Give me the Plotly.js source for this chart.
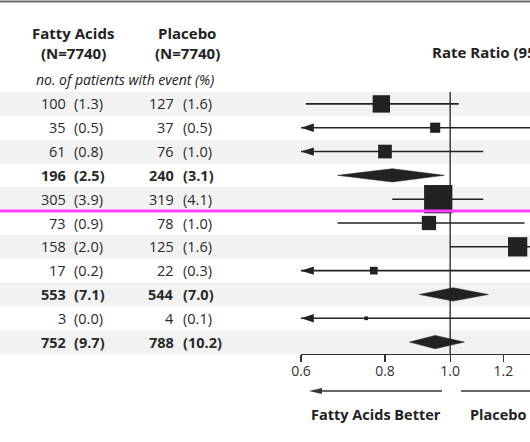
<!DOCTYPE html>
<html><head><meta charset="utf-8">
<script src="https://cdn.plot.ly/plotly-3.0.1.min.js"></script>
<style>html,body{margin:0;padding:0;overflow:hidden;background:#fff}</style>
</head><body><div id="chart" style="width:530px;height:442px"></div>
<script>
// ---- data ----
const fattyEvents   = [100, 35, 61, 196, 305, 73, 158, 17, 553, 3, 752];
const fattyPct      = ['1.3','0.5','0.8','2.5','3.9','0.9','2.0','0.2','7.1','0.0','9.7'];
const placeboEvents = [127, 37, 76, 240, 319, 78, 125, 22, 544, 4, 788];
const placeboPct    = ['1.6','0.5','1.0','3.1','4.1','1.0','1.6','0.3','7.0','0.1','10.2'];
const rateRatio     = [0.79, 0.95, 0.80, 0.82, 0.96, 0.93, 1.26, 0.77, 1.01, 0.75, 0.95];
const ciLow         = [0.61, 0.58, 0.56, 0.68, 0.82, 0.68, 1.00, 0.41, 0.90, 0.17, 0.87];
const ciHigh        = [1.03, 1.52, 1.12, 0.98, 1.12, 1.29, 1.59, 1.46, 1.14, 3.36, 1.05];
const isSummary     = [false, false, false, true, false, false, false, false, true, false, true];
const xTicks        = [0.6, 0.8, 1.0, 1.2];
const xTickLabels   = ['0.6', '0.8', '1.0', '1.2'];

// ---- layout geometry ----
const W = 530, H = 442, ML = 301, MR = 0, MT = 92, MB = 88;
const PW = W - ML - MR, PH = H - MT - MB;
const PX_PER_DECADE = 672.3;
const xMin = 0.6;
const xRange = [Math.log10(xMin), Math.log10(xMin) + PW / PX_PER_DECADE];
const n = rateRatio.length;
const px = v => (v - ML) / PW;          // pixel x -> paper x
const py = v => (H - MB - v) / PH;      // pixel y -> paper y
const FONT = '"Open Sans", "Noto Sans", sans-serif';
const INK = '#222';

const traces = [];
// reference line at 1.0
traces.push({x: [1, 1], y: [-0.5, n - 0.5], mode: 'lines', line: {color: INK, width: 1.3}, hoverinfo: 'skip'});
// confidence interval lines
const lx = [], ly = [];
for (let i = 0; i < n; i++) {
  if (isSummary[i]) continue;
  lx.push(ciLow[i], ciHigh[i], null); ly.push(i, i, null);
}
traces.push({x: lx, y: ly, mode: 'lines', line: {color: INK, width: 1.6}, hoverinfo: 'skip'});
// arrows for intervals running off the left edge
const ax = [], ay = [];
for (let i = 0; i < n; i++) if (!isSummary[i] && ciLow[i] < xMin) { ax.push(xMin); ay.push(i); }
traces.push({x: ax, y: ay, mode: 'markers', cliponaxis: false,
  marker: {symbol: 'arrow', angle: -90, size: 13.5, color: INK, opacity: 1, line: {width: 0}}, hoverinfo: 'skip'});
// squares
const sx = [], sy = [], ss = [];
for (let i = 0; i < n; i++) {
  if (isSummary[i]) continue;
  sx.push(rateRatio[i]); sy.push(i);
  ss.push(1.1 * Math.sqrt(fattyEvents[i] + placeboEvents[i]) + 0.8);
}
traces.push({x: sx, y: sy, mode: 'markers',
  marker: {symbol: 'square', size: ss, color: INK, opacity: 1, line: {width: 0}}, hoverinfo: 'skip'});
// diamonds
const DH = 0.28;
for (let i = 0; i < n; i++) {
  if (!isSummary[i]) continue;
  traces.push({x: [ciLow[i], rateRatio[i], ciHigh[i], rateRatio[i], ciLow[i]],
    y: [i, i - DH, i, i + DH, i], mode: 'lines', fill: 'toself', fillcolor: INK,
    line: {width: 0.5, color: INK}, hoverinfo: 'skip'});
}

// ---- shapes ----
const shapes = [];
for (let i = 0; i < n; i += 2) {
  shapes.push({type: 'rect', xref: 'paper', yref: 'y', x0: px(0), x1: 1, y0: i - 0.5, y1: i + 0.5,
    fillcolor: '#f2f2f2', line: {width: 0}, layer: 'below'});
}
// top rule
shapes.push({type: 'line', xref: 'paper', yref: 'paper', x0: px(0), x1: px(W), y0: py(1.5), y1: py(1.5),
  line: {color: '#6b6b6b', width: 2}});
// magenta marker line
shapes.push({type: 'line', xref: 'paper', yref: 'paper', x0: px(0), x1: px(W), y0: py(211), y1: py(211),
  line: {color: '#ff3cff', width: 3}, layer: 'above'});
// bottom direction arrows
shapes.push({type: 'line', xref: 'paper', yref: 'paper', x0: px(318), x1: px(442), y0: py(391), y1: py(391),
  line: {color: '#333', width: 1.6}});
shapes.push({type: 'path', xref: 'paper', yref: 'paper',
  path: `M${px(309)},${py(391)} L${px(322)},${py(388)} L${px(322)},${py(394)} Z`,
  fillcolor: '#333', line: {width: 0}});
shapes.push({type: 'line', xref: 'paper', yref: 'paper', x0: px(461), x1: px(W + 5), y0: py(391), y1: py(391),
  line: {color: '#333', width: 1.6}});

// ---- annotations ----
const ann = [];
const txt = (text, x, y, xanchor, size) => ({text, x: px(x), y: py(y), xref: 'paper', yref: 'paper',
  xanchor, yanchor: 'middle', showarrow: false, font: {family: FONT, size, color: INK}});
ann.push(txt('<b>Fatty Acids</b>', 73, 33, 'center', 15));
ann.push(txt('<b>(N=7740)</b>', 73, 53, 'center', 15));
ann.push(txt('<b>Placebo</b>', 187, 33, 'center', 15));
ann.push(txt('<b>(N=7740)</b>', 187, 53, 'center', 15));
ann.push(txt('<i>no. of patients with event (%)</i>', 125, 80, 'center', 14));
ann.push(txt('<b>Rate Ratio (95% CI)</b>', 430, 52, 'left', 15));
ann.push(txt('<b>Fatty Acids Better</b>', 376, 415, 'center', 14.5));
ann.push(txt('<b>Placebo Better</b>', 468, 415, 'left', 14.5));
for (let i = 0; i < n; i++) {
  const b = s => isSummary[i] ? '<b>' + s + '</b>' : s;
  const cell = (text, x, xanchor) => ({text: b(text), x: px(x), y: i, xref: 'paper', yref: 'y',
    xanchor, yanchor: 'middle', showarrow: false, font: {family: FONT, size: 14.5, color: '#2a2a2a'}});
  ann.push(cell(String(fattyEvents[i]), 67.5, 'right'));
  ann.push(cell('(' + fattyPct[i] + ')', 72, 'left'));
  ann.push(cell(String(placeboEvents[i]), 176, 'right'));
  ann.push(cell('(' + placeboPct[i] + ')', 181, 'left'));
}

const layout = {
  width: W, height: H, margin: {l: ML, r: MR, t: MT, b: MB, pad: 0},
  paper_bgcolor: '#fff', plot_bgcolor: 'rgba(0,0,0,0)', showlegend: false,
  font: {family: FONT, color: INK},
  xaxis: {type: 'log', range: xRange, tickvals: xTicks, ticktext: xTickLabels,
    ticks: 'outside', ticklen: 7, tickwidth: 1.3, tickcolor: '#333', ticklabelstandoff: -3,
    showline: true, linecolor: '#333', linewidth: 1.3, showgrid: false, zeroline: false,
    tickfont: {family: FONT, size: 14, color: '#333'}, fixedrange: true},
  yaxis: {range: [n - 0.5, -0.5], visible: false, showgrid: false, zeroline: false, fixedrange: true},
  shapes, annotations: ann
};
Plotly.newPlot('chart', traces, layout, {displayModeBar: false, staticPlot: true});
</script></body></html>
